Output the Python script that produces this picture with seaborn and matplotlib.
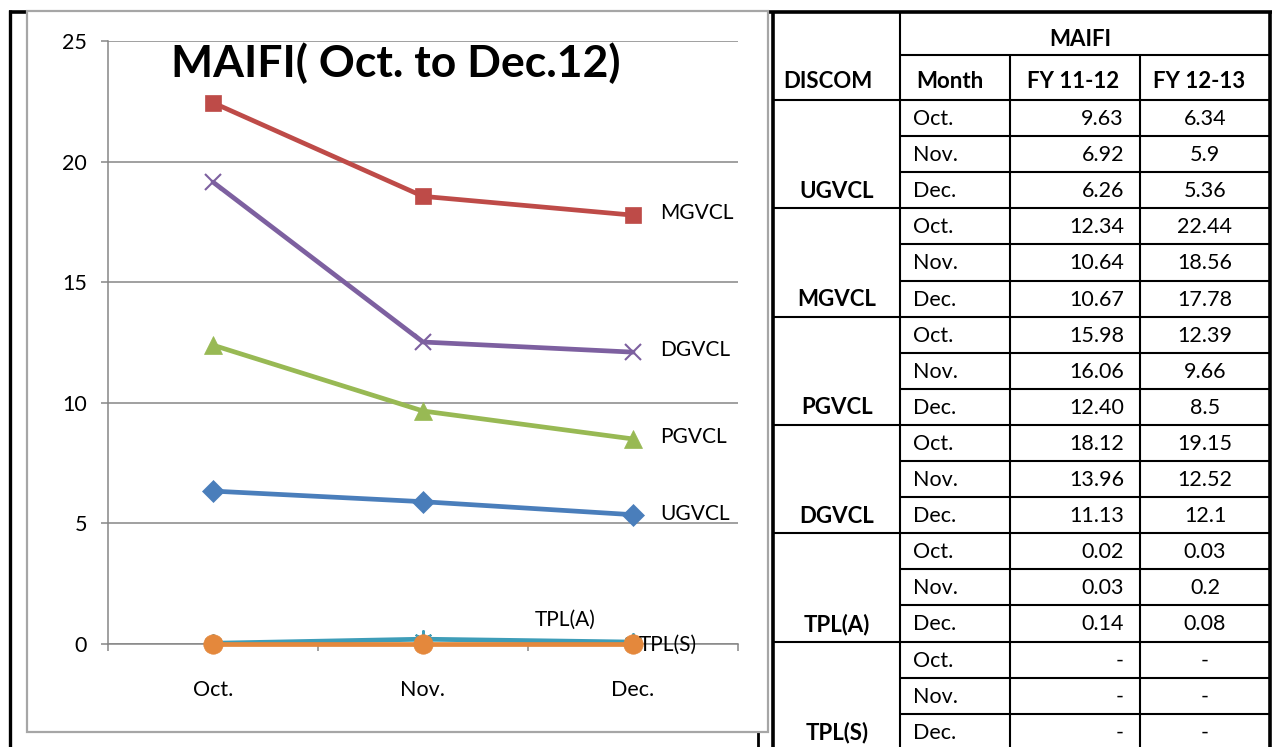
# MAIFI (Oct. to Dec.12) line chart with the data table beside it

import matplotlib
matplotlib.use("Agg")
import matplotlib.pyplot as plt
import seaborn as sns
from matplotlib.patches import Rectangle

# ==========================================
# DATA
# ==========================================

months = ["Oct.", "Nov.", "Dec."]

ugvcl = [6.34, 5.9, 5.36]
mgvcl = [22.44, 18.56, 17.78]
pgvcl = [12.39, 9.66, 8.5]
dgvcl = [19.15, 12.52, 12.1]
tpl_a = [0.03, 0.2, 0.08]
tpl_s = [0, 0, 0]

discoms = ["UGVCL", "MGVCL", "PGVCL", "DGVCL", "TPL(A)", "TPL(S)"]

fy_11_12 = ["9.63", "6.92", "6.26",
            "12.34", "10.64", "10.67",
            "15.98", "16.06", "12.40",
            "18.12", "13.96", "11.13",
            "0.02", "0.03", "0.14",
            "-", "-", "-"]

fy_12_13 = ["6.34", "5.9", "5.36",
            "22.44", "18.56", "17.78",
            "12.39", "9.66", "8.5",
            "19.15", "12.52", "12.1",
            "0.03", "0.2", "0.08",
            "-", "-", "-"]

# ==========================================
# STYLE
# ==========================================

sns.set_theme(style="white")
plt.rcParams["font.family"] = ["Lato", "DejaVu Sans"]
plt.rcParams["text.color"] = "black"

W, H = 1275, 747
fig = plt.figure(figsize=(W / 100, H / 100), dpi=100)

# background layer in pixel coordinates (frames + table)
bg = fig.add_axes([0, 0, 1, 1])
bg.set_xlim(0, W)
bg.set_ylim(H, 0)
bg.axis("off")

# black outer frame
bg.plot([9.5, 9.5], [10, H], color="black", lw=2.4, solid_capstyle="butt")
bg.plot([9, 1272], [12, 12], color="black", lw=2.6, solid_capstyle="butt")
bg.plot([758, 758], [732, H], color="black", lw=2.0, solid_capstyle="butt")

# gray chart box
bg.add_patch(Rectangle((27, 11), 741, 721, facecolor="white",
                       edgecolor="#A6A6A6", lw=1.6, zorder=3))

# ==========================================
# TABLE
# ==========================================

cx = [773, 900, 1010, 1140, 1270]
pitch = 36.1
rows_top = 100
row_edges = [rows_top + pitch * k for k in range(19)]

lk = dict(color="black", solid_capstyle="butt", zorder=4)
bg.plot([cx[0], cx[0]], [12, H], lw=2.6, **lk)
bg.plot([cx[-1], cx[-1]], [12, H], lw=2.6, **lk)
bg.plot([cx[1], cx[1]], [12, H], lw=1.5, **lk)
bg.plot([cx[2], cx[2]], [55, H], lw=1.5, **lk)
bg.plot([cx[3], cx[3]], [55, H], lw=1.5, **lk)
bg.plot([cx[1], cx[-1]], [55, 55], lw=1.5, **lk)
bg.plot([cx[0], cx[-1]], [rows_top, rows_top], lw=1.5, **lk)
for k in range(1, 18):
    yy = row_edges[k]
    x0 = cx[0] if k % 3 == 0 else cx[1]
    bg.plot([x0, cx[-1]], [yy, yy], lw=1.5, **lk)

hdr = dict(fontsize=16, fontweight="bold", color="black",
           ha="center", va="center", zorder=5)
bg.text(1080, 40, "MAIFI", **hdr)
bg.text(828, 82, "DISCOM", **hdr)
bg.text(950, 82, "Month", **hdr)
bg.text(1073, 82, "FY 11-12", **hdr)
bg.text(1199, 82, "FY 12-13", **hdr)

cell = dict(fontsize=15.5, color="black", va="center", zorder=5)
for i in range(18):
    yc = row_edges[i] + pitch / 2 + 1
    bg.text(913, yc, months[i % 3], ha="left", **cell)
    bg.text(1124, yc, fy_11_12[i], ha="right", **cell)
    bg.text(1205, yc, fy_12_13[i], ha="center", **cell)
for g, name in enumerate(discoms):
    yc = row_edges[g * 3 + 2] + pitch / 2 + 1
    bg.text(837, yc, name, fontsize=16, fontweight="bold",
            ha="center", va="center", zorder=5)

# ==========================================
# LINE CHART
# ==========================================

ax = fig.add_axes([108 / W, (H - 644) / H, 630 / W, 603 / H])
ax.set_facecolor("none")
ax.set_zorder(5)

x_pos = list(range(len(months)))

series = [
    ("UGVCL", ugvcl, "#4A7EBB", "D", 11),
    ("MGVCL", mgvcl, "#BE4B48", "s", 12),
    ("PGVCL", pgvcl, "#98B954", "^", 13),
    ("DGVCL", dgvcl, "#7D60A0", "x", 11),
    ("TPL(A)", tpl_a, "#3E9DB8", (6, 2, 0), 13),
    ("TPL(S)", tpl_s, "#E4883C", "o", 14),
]

for name, vals, color, mk, ms in series:
    thin = mk in ("x", (6, 2, 0))
    sns.lineplot(x=x_pos, y=vals, ax=ax, color=color, linewidth=3.4,
                 marker=mk, markersize=ms, markerfacecolor=color,
                 markeredgecolor=color, markeredgewidth=1.5 if thin else 0.5,
                 clip_on=False, zorder=6)

# series labels
labels = [
    ("MGVCL", 2, mgvcl[2], 27, -2),
    ("DGVCL", 2, dgvcl[2], 27, -2),
    ("PGVCL", 2, pgvcl[2], 27, -2),
    ("UGVCL", 2, ugvcl[2], 27, -1),
    ("TPL(A)", 2, tpl_a[2], -98, -22),
    ("TPL(S)", 2, tpl_s[2], 6, 1),
]
for text, xi, yi, dx, dy in labels:
    ax.annotate(text, xy=(xi, yi), xytext=(dx, -dy),
                textcoords="offset pixels", fontsize=15,
                ha="left", va="center", color="black", zorder=7)

ax.set_xlim(-0.5, 2.5)
ax.set_ylim(0, 25)
ax.set_yticks([0, 5, 10, 15, 20, 25])
ax.set_xticks(x_pos)
ax.set_xticklabels(months)
ax.set_xticks([-0.5, 0.5, 1.5, 2.5], minor=True)

grid_c = "#868686"
ax.yaxis.grid(True, color=grid_c, lw=1.1)
ax.xaxis.grid(False)
for side in ["top", "right"]:
    ax.spines[side].set_visible(False)
for side in ["left", "bottom"]:
    ax.spines[side].set_color(grid_c)
    ax.spines[side].set_linewidth(1.1)

ax.tick_params(axis="y", which="major", direction="out", length=5,
               width=1.1, color=grid_c, left=True, labelsize=15.5, pad=10,
               labelcolor="black")
ax.tick_params(axis="x", which="major", length=0, labelsize=15.5, pad=26,
               labelcolor="black")
ax.tick_params(axis="x", which="minor", direction="out", length=5,
               width=1.1, color=grid_c, bottom=True)
ax.set_xlabel("")
ax.set_ylabel("")

fig.text(396 / W, 1 - 63 / H, "MAIFI( Oct. to Dec.12)", fontsize=32,
         fontweight="bold", ha="center", va="center", zorder=10)

fig.savefig("out.png", dpi=100)
